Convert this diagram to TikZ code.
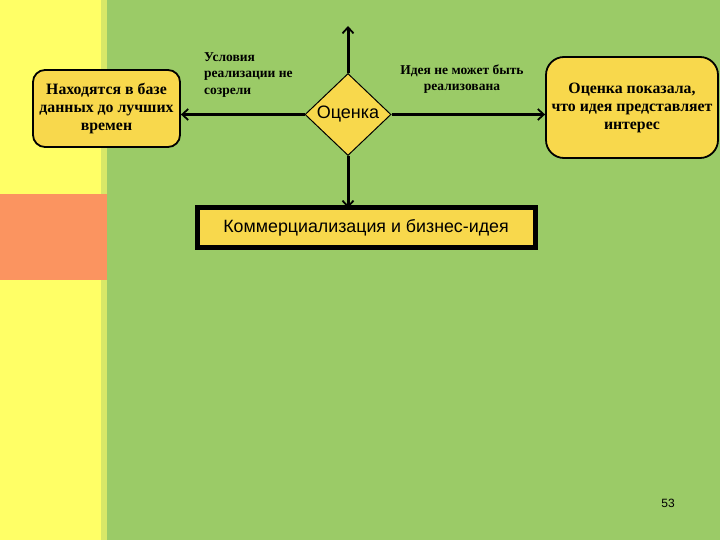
\documentclass[tikz,border=0pt]{standalone}
\usepackage{fontspec}
\setmainfont{Liberation Serif}
\newfontfamily\sansf{Liberation Sans}
\usetikzlibrary{shapes.geometric,arrows.meta}
\definecolor{bggreen}{HTML}{9BCB67}
\definecolor{stripyellow}{HTML}{FFFF66}
\definecolor{stripedge}{HTML}{D8E868}
\definecolor{bandorange}{HTML}{FB9460}
\definecolor{boxfill}{HTML}{F8D84C}
\tikzset{
  x=1pt,y=-1pt,
  rbox/.style={draw=black,line width=1.8pt,fill=boxfill,rounded corners=#1,align=center,font=\bfseries\fontsize{15.8}{18}\selectfont,inner sep=1pt},
  conn/.style={draw=black,line width=3pt,-{Straight Barb[length=6pt,width=11pt,line width=1.8pt]}},
  lbl/.style={font=\bfseries\fontsize{13.5}{16.5}\selectfont,inner sep=0pt}
}
\begin{document}
\begin{tikzpicture}
\useasboundingbox (0,0) rectangle (720,540);
\fill[bggreen] (0,0) rectangle (720,540);
\fill[stripyellow] (0,0) rectangle (101,540);
\fill[stripedge] (101,0) rectangle (107,540);
\fill[bandorange] (0,194) rectangle (107,280);
% nodes
\node[rbox=12pt,minimum width=147pt,minimum height=77pt] (left) at (106.5,108.5) {Находятся в базе\\данных до лучших\\времен};
\node[rbox=18pt,minimum width=172pt,minimum height=101pt] (right) at (632,107.5) {Оценка показала,\\что идея представляет\\интерес};
\node[diamond,draw=black,line width=1pt,fill=boxfill,minimum width=86pt,minimum height=82pt,inner sep=0pt,font=\sansf\fontsize{18}{20}\selectfont] (dec) at (348,114.5) {Оценка};
\node[draw=black,line width=5pt,fill=boxfill,minimum width=338pt,minimum height=40pt,font=\sansf\fontsize{17.8}{20}\selectfont] (com) at (366,227.5) {Коммерциализация и бизнес-идея};
\coordinate (top) at (348,26);
\node[lbl,align=left,anchor=north west] (l1) at (204,52) {Условия\\реализации не\\созрели};
\node[lbl,align=center] (l2) at (462,79) {Идея не может быть\\реализована};
\node[font=\sansf\fontsize{12}{14}\selectfont] (pg) at (668,503) {53};
% connectors
\draw[conn] (dec.north) -- (top);
\draw[conn] (dec.west) -- (dec.west -| left.east);
\draw[conn] (dec.east) -- (dec.east -| right.west);
\draw[conn] (dec.south) -- ([yshift=-3pt]dec.south |- com.north);
\end{tikzpicture}
\end{document}
